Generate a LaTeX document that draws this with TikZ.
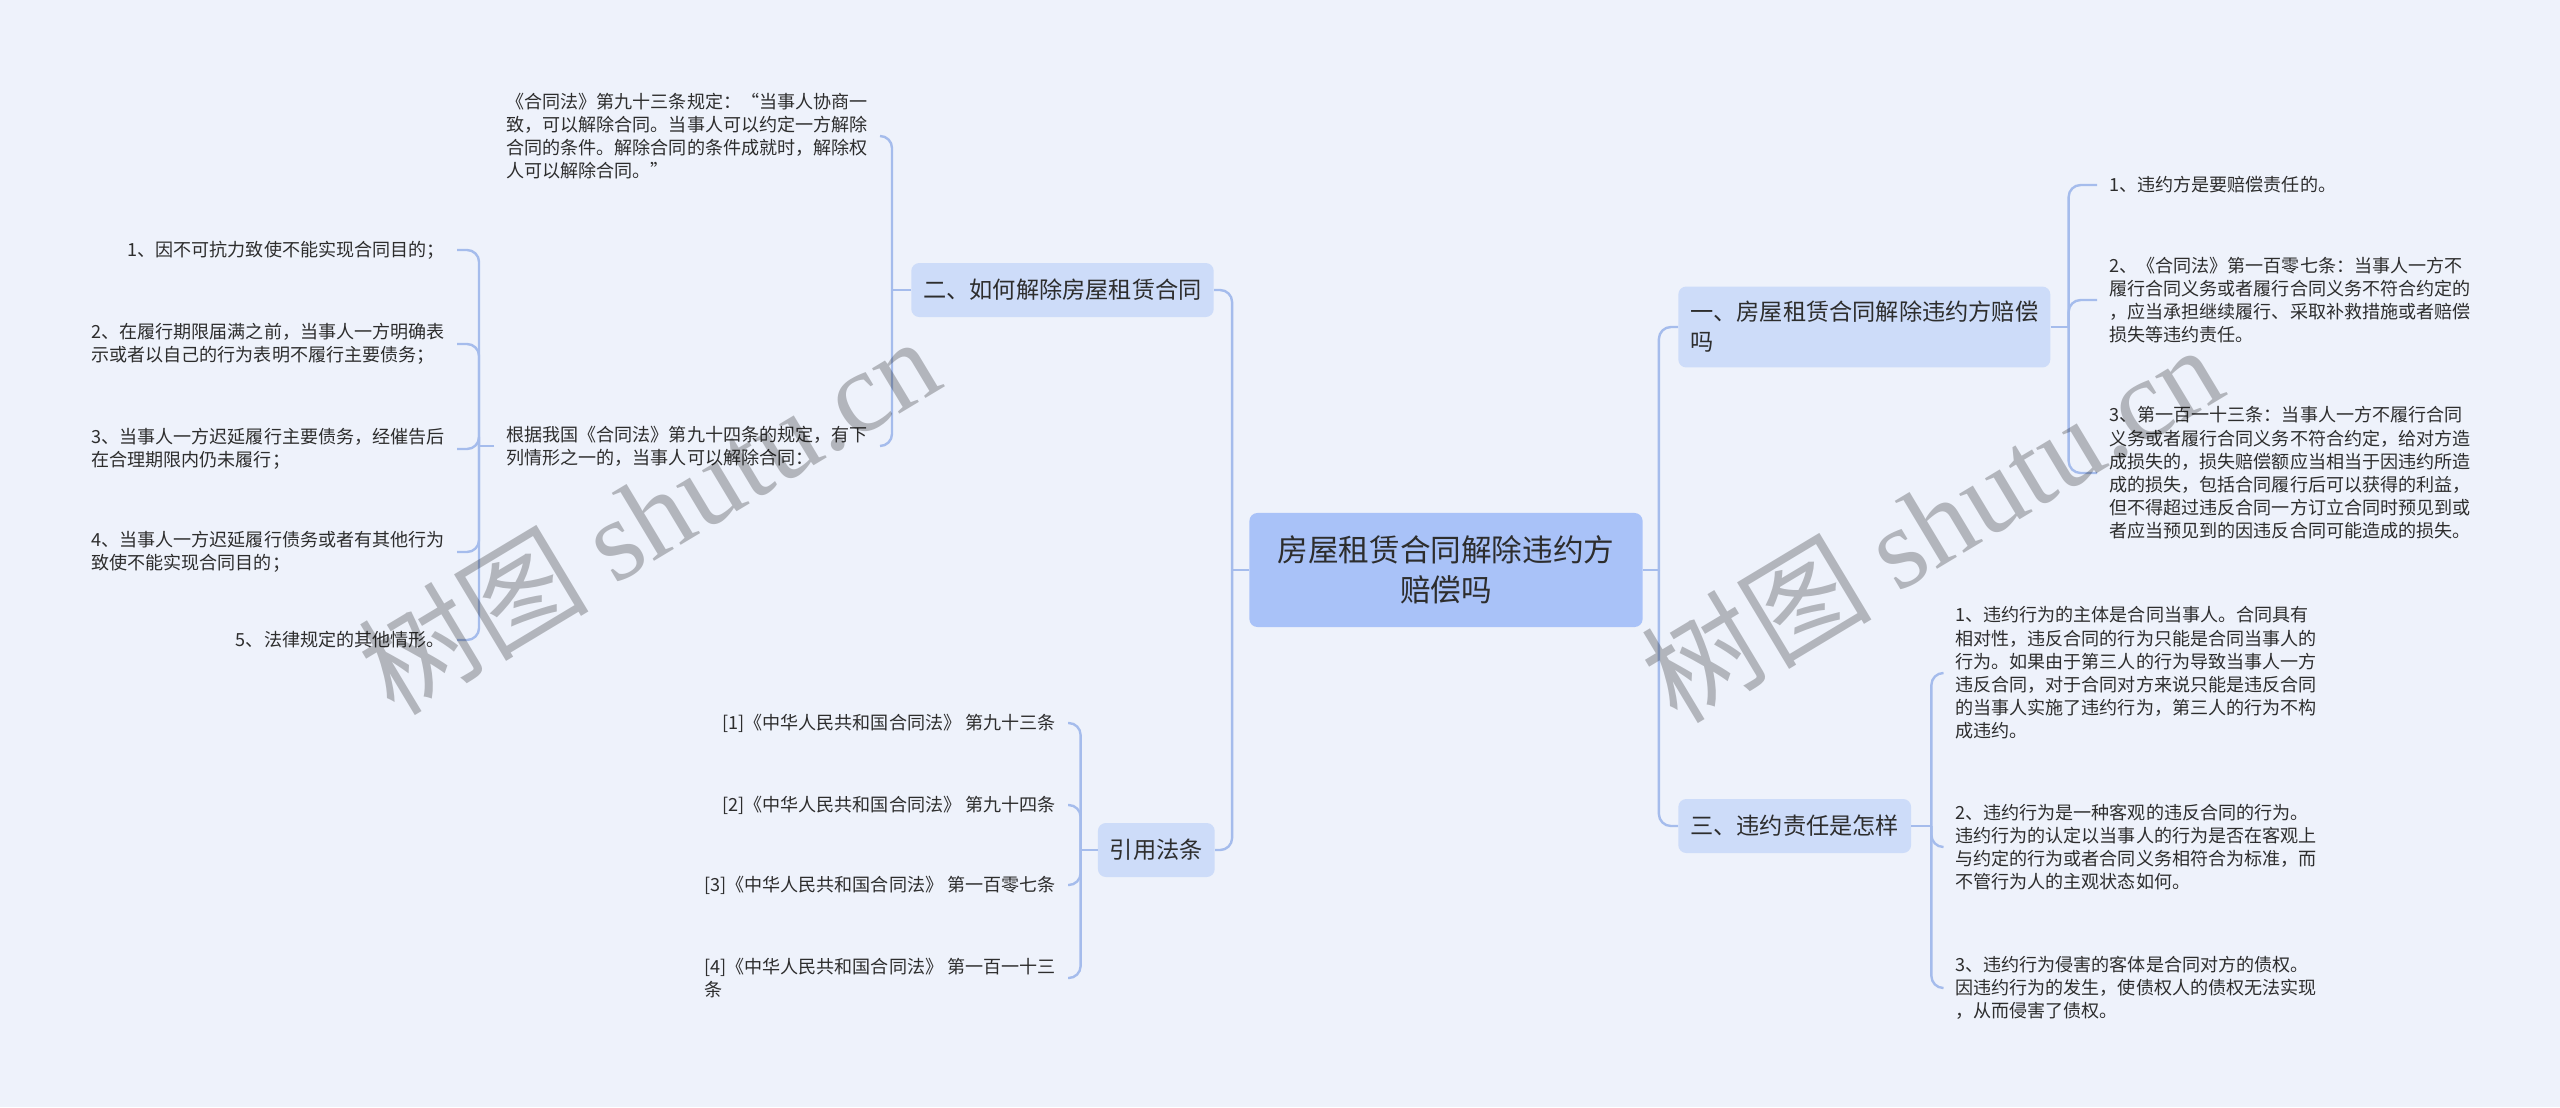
\documentclass[tikz,border=0pt]{standalone}
\usepackage{fontspec}
\setmainfont{Noto Sans CJK SC}
\newfontfamily\wmlatin{Liberation Serif}
\usepackage{tikz}
\usetikzlibrary{positioning}
\usepackage{xcolor}
\definecolor{cBack}{RGB}{238,242,251}
\definecolor{cRoot}{RGB}{169,194,248}
\definecolor{cTopic}{RGB}{205,220,249}
\definecolor{cLink}{RGB}{165,188,236}
\definecolor{cText}{RGB}{45,45,45}
\tikzset{
  basebox/.style={rectangle, rounded corners=0.2cm, text=cText},
  rootnode/.style={basebox, fill=cRoot, align=center, inner xsep=0.7cm,
                   minimum height=2.85cm, font=\fontsize{21.8}{28.5}\selectfont},
  topicnode/.style={basebox, fill=cTopic, align=left, inner xsep=0.3cm,
                    inner ysep=0.37cm, minimum height=1.35cm,
                    font=\fontsize{16.5}{21.3}\selectfont},
  leafnode/.style={rectangle, text=cText, align=left, inner xsep=0.3cm,
                   inner ysep=0.1cm, font=\fontsize{12.85}{16.5}\selectfont},
  link/.style={draw=cLink, line width=1.7pt, rounded corners=0.3cm},
  watermark/.style={text=black, text opacity=0.25, font=\fontsize{82}{84}\selectfont}
}
\begin{document}
\begin{tikzpicture}[x=0.025cm, y=-0.025cm]

  \fill[cBack] (0,0) rectangle (2560,1107);
  \useasboundingbox (0,0) rectangle (2560,1107);

  % Root
  \node[rootnode] (root) at (1446,570) {房屋租赁合同解除违约方\\赔偿吗};

  % Main topics
  \node[topicnode, anchor=east] (jiechu) at (1214,290) {二、如何解除房屋租赁合同};
  \node[topicnode, anchor=east] (yinyong) at (1215,850) {引用法条};
  \node[topicnode, anchor=west] (peichang) at (1678,327) {一、房屋租赁合同解除违约方赔偿\\吗};
  \node[topicnode, anchor=west] (zeren) at (1678,826) {三、违约责任是怎样};

  % Branch: jiechu
  \node[leafnode, anchor=east] (fa93) at (880,136)
      {《合同法》第九十三条规定：“当事人协商一\\致，可以解除合同。当事人可以约定一方解除\\合同的条件。解除合同的条件成就时，解除权\\人可以解除合同。”};
  \node[leafnode, anchor=east] (fa94) at (880,446)
      {根据我国《合同法》第九十四条的规定，有下\\列情形之一的，当事人可以解除合同：};

  % Branch: fa94
  \node[leafnode, anchor=east] (qx1) at (457,250) {1、因不可抗力致使不能实现合同目的；};
  \node[leafnode, anchor=east] (qx2) at (457,344)
      {2、在履行期限届满之前，当事人一方明确表\\示或者以自己的行为表明不履行主要债务；};
  \node[leafnode, anchor=east] (qx3) at (457,449)
      {3、当事人一方迟延履行主要债务，经催告后\\在合理期限内仍未履行；};
  \node[leafnode, anchor=east] (qx4) at (457,552)
      {4、当事人一方迟延履行债务或者有其他行为\\致使不能实现合同目的；};
  \node[leafnode, anchor=east] (qx5) at (457,640) {5、法律规定的其他情形。};

  % Branch: yinyong
  \node[leafnode, anchor=east] (ref1) at (1068,723) {[1]《中华人民共和国合同法》 第九十三条};
  \node[leafnode, anchor=east] (ref2) at (1068,805) {[2]《中华人民共和国合同法》 第九十四条};
  \node[leafnode, anchor=east] (ref3) at (1068,885) {[3]《中华人民共和国合同法》 第一百零七条};
  \node[leafnode, anchor=east] (ref4) at (1068,978) {[4]《中华人民共和国合同法》 第一百一十三\\条};

  % Branch: peichang
  \node[leafnode, anchor=west] (pc1) at (2097,185) {1、违约方是要赔偿责任的。};
  \node[leafnode, anchor=west] (pc2) at (2097,300)
      {2、《合同法》第一百零七条：当事人一方不\\履行合同义务或者履行合同义务不符合约定的\\，应当承担继续履行、采取补救措施或者赔偿\\损失等违约责任。};
  \node[leafnode, anchor=west] (pc3) at (2097,473)
      {3、第一百一十三条：当事人一方不履行合同\\义务或者履行合同义务不符合约定，给对方造\\成损失的，损失赔偿额应当相当于因违约所造\\成的损失，包括合同履行后可以获得的利益，\\但不得超过违反合同一方订立合同时预见到或\\者应当预见到的因违反合同可能造成的损失。};

  % Branch: zeren
  \node[leafnode, anchor=west] (zr1) at (1943,673)
      {1、违约行为的主体是合同当事人。合同具有\\相对性，违反合同的行为只能是合同当事人的\\行为。如果由于第三人的行为导致当事人一方\\违反合同，对于合同对方来说只能是违反合同\\的当事人实施了违约行为，第三人的行为不构\\成违约。};
  \node[leafnode, anchor=west] (zr2) at (1943,847)
      {2、违约行为是一种客观的违反合同的行为。\\违约行为的认定以当事人的行为是否在客观上\\与约定的行为或者合同义务相符合为标准，而\\不管行为人的主观状态如何。};
  \node[leafnode, anchor=west] (zr3) at (1943,988)
      {3、违约行为侵害的客体是合同对方的债权。\\因违约行为的发生，使债权人的债权无法实现\\，从而侵害了债权。};

  % Connectors
  \draw[link] (root.west) -- ++(-17,0) coordinate (jRootL);
  \draw[link] (root.east) -- ++(16,0) coordinate (jRootR);
  \foreach \c in {jiechu, yinyong} \draw[link] (\c.east) -| (jRootL);
  \foreach \c in {peichang, zeren} \draw[link] (\c.west) -| (jRootR);

  \draw[link] (jiechu.west) -- ++(-19,0) coordinate (jJiechu);
  \foreach \c in {fa93, fa94} \draw[link] (\c.east) -| (jJiechu);

  \draw[link] (fa94.west) -- ++(-15,0) coordinate (jFa94);
  \foreach \c in {qx1, qx2, qx3, qx4, qx5} \draw[link] (\c.east) -| (jFa94);

  \draw[link] (yinyong.west) -- ++(-17,0) coordinate (jYinyong);
  \foreach \c in {ref1, ref2, ref3, ref4} \draw[link] (\c.east) -| (jYinyong);

  \draw[link] (peichang.east) -- ++(18,0) coordinate (jPeichang);
  \foreach \c in {pc1, pc2, pc3} \draw[link] (\c.west) -| (jPeichang);

  \draw[link] (zeren.east) -- ++(20,0) coordinate (jZeren);
  \foreach \c in {zr1, zr2, zr3} \draw[link] (\c.west) -| (jZeren);

  % Watermarks
  \node[watermark, rotate=31] (wmLeft) at (648,514) {树图 {\wmlatin shutu.cn}};
  \node[watermark, rotate=31] (wmRight) at (1931,522) {树图 {\wmlatin shutu.cn}};

\end{tikzpicture}
\end{document}
